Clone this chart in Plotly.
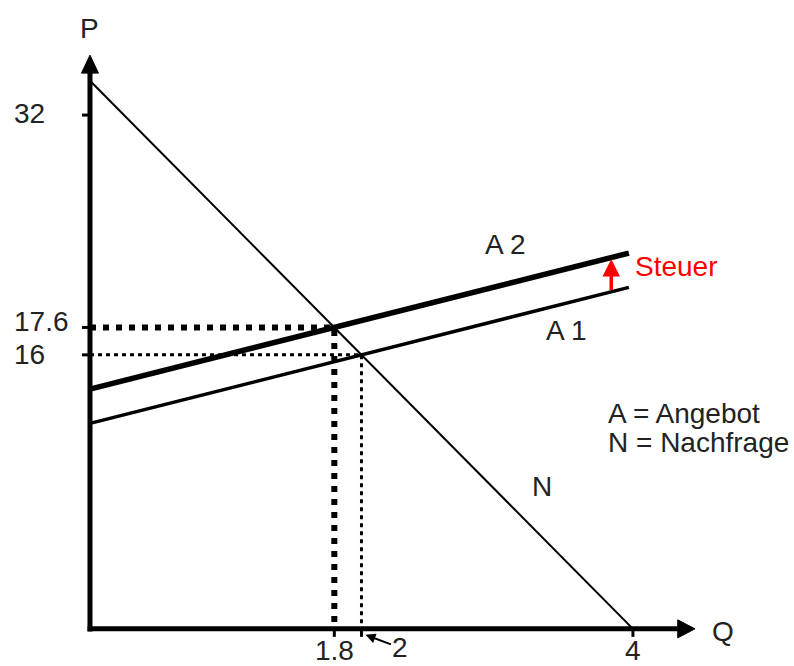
import plotly.graph_objects as go

# ---- data ----
demand_q = [0, 4]
demand_p = [32, 0]
supply_q = [0, 3.97]
a1_p = [12, 19.94]          # A 1 (before tax)
a2_p = [14, 21.94]          # A 2 (after tax)
eq_q = [2, 1.8]             # equilibrium quantities (A1, A2)
eq_p = [16, 17.6]           # equilibrium prices (A1, A2)
tax_q = 3.84
tax_from_to = [19.7, 21.6]
p_tick_pos = [30, 17.6, 16]         # the "32" tick is drawn lower in the reference
p_tick_text = ["32", "17.6", "16"]
p_label_shift = [2, 6, 0]
q_tick_pos = [1.8, 2, 4]
q_tick_text = ["1.8", None, "4"]

FONT = "Liberation Sans, Arial, sans-serif"
TXT = "#222222"
FS = 28

X_RANGE = [-0.103, 5.098]
Y_RANGE = [-1.0, 34.5]
X_MAX, X_TIP = 4.33, 4.457
Y_MAX, Y_TIP = 32.45, 33.5

fig = go.Figure()

# dotted guide lines
fig.add_trace(go.Scatter(x=[0, eq_q[1], eq_q[1]], y=[eq_p[1], eq_p[1], 0], mode="lines",
                         line=dict(color="black", width=6, dash="6px,7px"), hoverinfo="skip"))
fig.add_trace(go.Scatter(x=[0, eq_q[0], eq_q[0]], y=[eq_p[0], eq_p[0], 0], mode="lines",
                         line=dict(color="black", width=3, dash="4px,4px"), hoverinfo="skip"))
# demand
fig.add_trace(go.Scatter(x=demand_q, y=demand_p, mode="lines",
                         line=dict(color="black", width=2), hoverinfo="skip"))
# supply curves
fig.add_trace(go.Scatter(x=supply_q, y=a1_p, mode="lines",
                         line=dict(color="black", width=3.5), hoverinfo="skip"))
fig.add_trace(go.Scatter(x=supply_q, y=a2_p, mode="lines",
                         line=dict(color="black", width=5.5), hoverinfo="skip"))

shapes = []
# axes
shapes.append(dict(type="line", x0=0, y0=-0.15, x1=0, y1=Y_MAX, line=dict(color="black", width=5)))
shapes.append(dict(type="line", x0=-0.018, y0=0, x1=X_MAX, y1=0, line=dict(color="black", width=5)))
hw = 8.5 / 135.75
hh = 9 / 17.13
shapes.append(dict(type="path", path=f"M 0,{Y_TIP} L {-hw},{Y_MAX} L {hw},{Y_MAX} Z",
                   fillcolor="black", line=dict(color="black", width=1)))
shapes.append(dict(type="path", path=f"M {X_TIP},0 L {X_MAX},{-hh} L {X_MAX},{hh} Z",
                   fillcolor="black", line=dict(color="black", width=1)))
# ticks
tl_x = 8 / 135.75
tl_y = 8 / 17.13
for v in p_tick_pos:
    shapes.append(dict(type="line", x0=-tl_x, x1=0, y0=v, y1=v, line=dict(color="black", width=3)))
for v in q_tick_pos:
    shapes.append(dict(type="line", x0=v, x1=v, y0=0, y1=-tl_y, line=dict(color="black", width=3)))

ann = []
def txt(text, **kw):
    d = dict(text=text, showarrow=False, font=dict(family=FONT, size=FS, color=TXT))
    d.update(kw)
    ann.append(d)

# y tick labels (left aligned)
for v, t, s in zip(p_tick_pos, p_tick_text, p_label_shift):
    txt(t, xref="paper", x=-0.0907, xanchor="left", yref="y", y=v, yanchor="middle", yshift=s)
# x tick labels
for v, t in zip(q_tick_pos, q_tick_text):
    if t:
        txt(t, xref="x", x=v, xanchor="center", yref="paper", y=-0.0070, yanchor="middle")
# "2" with a small arrow
ann.append(dict(text="2", x=2, y=-0.35, xref="x", yref="y", xshift=4, showarrow=True,
                ax=35, ay=13, arrowhead=2, arrowsize=1, arrowwidth=2, arrowcolor="black",
                standoff=0, font=dict(family=FONT, size=FS, color=TXT)))
# axis titles
txt("P", xref="x", x=0, yref="paper", y=1.0164, xanchor="center", yanchor="middle")
txt("Q", xref="x", x=4.66, yref="y", y=-0.175, xanchor="center", yanchor="middle")
# curve labels
txt("A 2", x=3.057, y=22.47, xanchor="center", yanchor="middle")
txt("A 1", x=3.506, y=17.40, xanchor="center", yanchor="middle")
txt("N", x=3.33, y=8.29, xanchor="center", yanchor="middle")
txt("Steuer", x=4.0, y=21.13, xanchor="left", yanchor="middle", font=dict(family=FONT, size=FS, color="#ff0000"))
txt("A = Angebot", x=3.80, y=12.6, xanchor="left", yanchor="middle")
txt("N = Nachfrage", x=3.80, y=10.86, xanchor="left", yanchor="middle")
# tax arrow
ann.append(dict(text="", x=tax_q, y=tax_from_to[1], ax=tax_q, ay=tax_from_to[0],
                xref="x", yref="y", axref="x", ayref="y", showarrow=True,
                arrowhead=2, arrowsize=1, arrowwidth=3.5, arrowcolor="#ff0000", standoff=0))

fig.update_layout(
    width=794, height=666,
    margin=dict(l=76, r=12, t=38, b=20),
    paper_bgcolor="white", plot_bgcolor="white",
    showlegend=False,
    shapes=shapes, annotations=ann,
    xaxis=dict(range=X_RANGE, showgrid=False, zeroline=False, showline=False,
               showticklabels=False, ticks="", fixedrange=True),
    yaxis=dict(range=Y_RANGE, showgrid=False, zeroline=False, showline=False,
               showticklabels=False, ticks="", fixedrange=True),
)

fig.write_html("out.html", config={"displayModeBar": False},
               post_script="document.body.style.margin='0';document.body.style.overflow='hidden';")
